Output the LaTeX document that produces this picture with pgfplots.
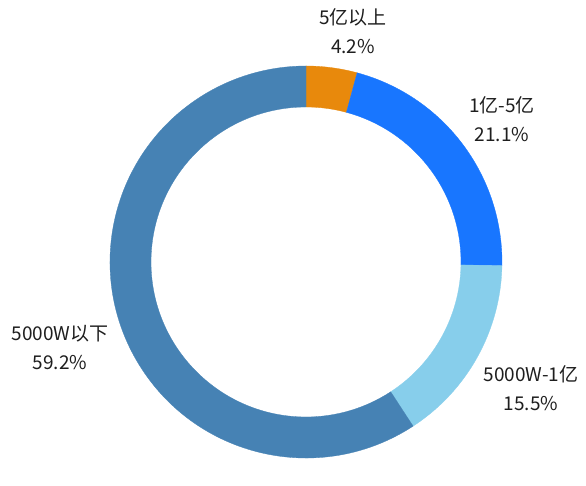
\documentclass[border=0pt]{standalone}
\usepackage{pgfplots}
\pgfplotsset{compat=1.18}
\usepackage{pgfplotstable}
\usepackage{fontspec}
\setmainfont{Noto Sans CJK SC}
\definecolor{c0}{RGB}{232,137,12}
\definecolor{c1}{RGB}{24,118,255}
\definecolor{c2}{RGB}{135,206,235}
\definecolor{c3}{RGB}{70,130,180}
\definecolor{txt}{RGB}{30,30,30}
\pgfplotstableread[col sep=comma]{
label,value
5亿以上,4.2
1亿-5亿,21.1
5000W-1亿,15.5
5000W以下,59.2
}\datatbl
\begin{document}
\begin{tikzpicture}
\begin{axis}[
  hide axis, scale only axis, clip=false,
  width=586pt, height=461pt,
  xmin=0, xmax=586, ymin=0, ymax=461,
]
\addplot[draw=none, forget plot] coordinates {(0,0) (586,461)};
\def\cx{306}\def\cy{199}\def\Ro{196}\def\Ri{155}
\gdef\cum{0}
\pgfplotsinvokeforeach{0,...,3}{
  \pgfplotstablegetelem{#1}{value}\of\datatbl
  \pgfmathsetmacro\aA{90-3.6*\cum}
  \pgfmathsetmacro\aB{90-3.6*(\cum+\pgfplotsretval)}
  \pgfmathsetmacro\newcum{\cum+\pgfplotsretval}
  \xdef\cum{\newcum}
  \pgfmathsetmacro\xA{\cx+\Ro*cos(\aA)}
  \pgfmathsetmacro\yA{\cy+\Ro*sin(\aA)}
  \pgfmathsetmacro\xB{\cx+\Ri*cos(\aB)}
  \pgfmathsetmacro\yB{\cy+\Ri*sin(\aB)}
  \edef\cmd{\noexpand\fill[c#1, draw=c#1, line width=0.3pt] (axis cs:\xA,\yA) arc[start angle=\aA, end angle=\aB, radius=\Ro pt] -- (axis cs:\xB,\yB) arc[start angle=\aB, end angle=\aA, radius=\Ri pt] -- cycle;}
  \cmd
}
\tikzset{lbl/.style={align=center, text=txt, font=\fontsize{19}{29}\selectfont}}
\node[lbl] at (axis cs:353,430) {5亿以上\\4.2\%};
\node[lbl] at (axis cs:502,342) {1亿-5亿\\21.1\%};
\node[lbl] at (axis cs:60,113) {5000W以下\\59.2\%};
\node[lbl] at (axis cs:531,73) {5000W-1亿\\15.5\%};
\end{axis}
\end{tikzpicture}
\end{document}
